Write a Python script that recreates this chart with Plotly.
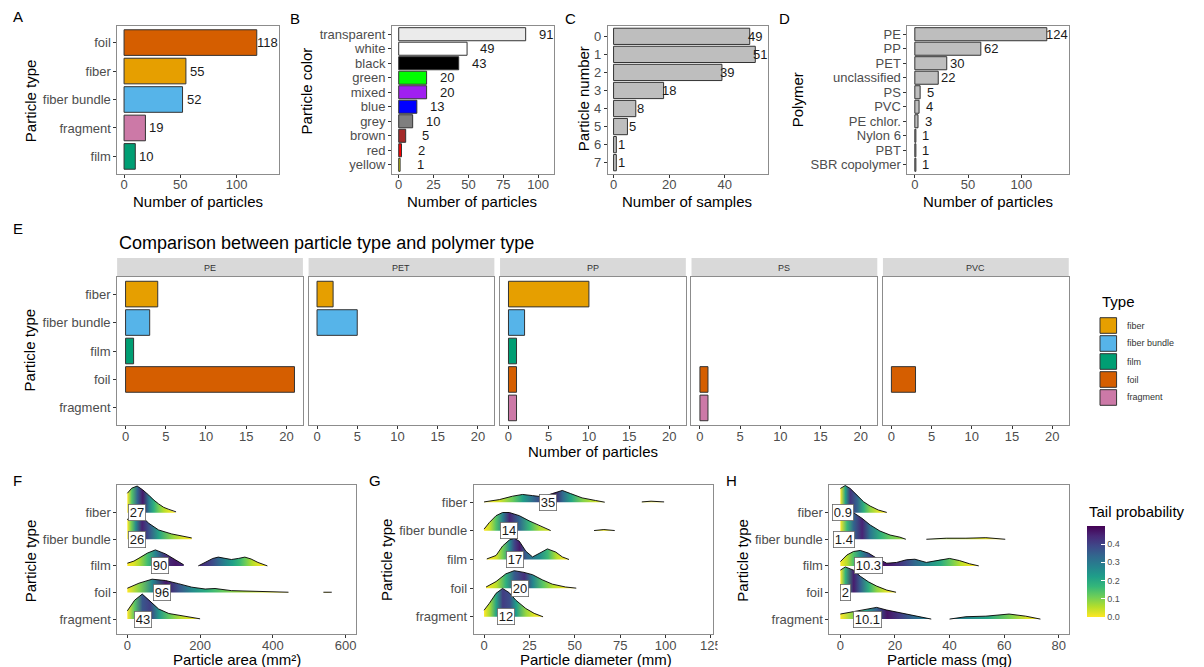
import plotly.graph_objects as go
from plotly.colors import sample_colorscale

# ---------------- data ----------------
A_types = ['foil', 'fiber', 'fiber bundle', 'fragment', 'film']
A_counts = [118, 55, 52, 19, 10]

type_names = ['fiber', 'fiber bundle', 'film', 'foil', 'fragment']
type_colors = ['#E69F00', '#56B4E9', '#009E73', '#D55E00', '#CC79A7']

B_colors = ['transparent', 'white', 'black', 'green', 'mixed', 'blue', 'grey', 'brown', 'red', 'yellow']
B_counts = [91, 49, 43, 20, 20, 13, 10, 5, 2, 1]
B_fill = ['#EBEBEB', '#FFFFFF', '#000000', '#00FF00', '#A020F0', '#0000FF', '#7F7F7F', '#A52A2A', '#FF0000', '#FFFF00']

C_numbers = ['0', '1', '2', '3', '4', '5', '6', '7']
C_counts = [49, 51, 39, 18, 8, 5, 1, 1]

D_polymers = ['PE', 'PP', 'PET', 'unclassified', 'PS', 'PVC', 'PE chlor.', 'Nylon 6', 'PBT', 'SBR copolymer']
D_counts = [124, 62, 30, 22, 5, 4, 3, 1, 1, 1]

E_polymers = ['PE', 'PET', 'PP', 'PS', 'PVC']
E_fiber = [4, 2, 10, 0, 0]
E_fiber_bundle = [3, 5, 2, 0, 0]
E_film = [1, 0, 1, 0, 0]
E_foil = [21, 0, 1, 1, 3]
E_fragment = [0, 0, 1, 1, 0]

# ridge densities (relative heights), pieces separated by None
F_fiber_x = [0, 12, 27, 42, 59, 72, 86, 100, 114, 134]
F_fiber_d = [0.73, 0.92, 1.0, 0.86, 0.66, 0.48, 0.33, 0.2, 0.125, 0.03]
F_bundle_x = [0, 10, 23, 40, 59, 86, 122, 150, 177]
F_bundle_d = [0.73, 0.92, 0.98, 0.85, 0.6, 0.35, 0.2, 0.12, 0.05]
F_film_x = [0, 18, 32, 55, 77, 105, 132, 155, None, 195, 218, 235, 250, 268, 286, 305, 323, 340, 359, 385]
F_film_d = [0.1, 0.18, 0.29, 0.48, 0.6, 0.45, 0.23, 0.04, None, 0.0, 0.16, 0.28, 0.33, 0.29, 0.24, 0.28, 0.33, 0.26, 0.13, 0.0]
F_foil_x = [0, 32, 68, 105, 141, 177, 214, 241, 286, 341, 377, 443, None, 539, 550, 562]
F_foil_d = [0.16, 0.35, 0.5, 0.45, 0.33, 0.2, 0.13, 0.15, 0.07, 0.05, 0.06, 0.01, None, 0.01, 0.02, 0.01]
F_frag_x = [0, 20, 41, 62, 86, 114, 150, 200]
F_frag_d = [0.31, 0.71, 0.94, 0.69, 0.38, 0.21, 0.125, 0.01]
F_medians = [27, 26, 90, 96, 43]

G_fiber_x = [0, 8.4, 15.7, 21.2, 26.7, 32, 37.6, 43.1, 47.7, 54, 61.4, 66.5, None, 86.9, 92, 99.2]
G_fiber_d = [0.01, 0.09, 0.21, 0.27, 0.23, 0.19, 0.3, 0.41, 0.3, 0.15, 0.06, 0.0, None, 0.01, 0.035, 0.01]
G_bundle_x = [0, 2.9, 6.6, 10.2, 13.9, 19.4, 24.8, 30.3, 36.7, None, 60.6, 66, 72]
G_bundle_d = [0.06, 0.29, 0.53, 0.64, 0.64, 0.53, 0.35, 0.18, 0.01, None, 0.01, 0.045, 0.01]
G_film_x = [1.5, 6.6, 10.2, 13.9, 16.6, 19.4, 23, 26.7, 30.3, 34.9, 39.5, 43.1, 46.8]
G_film_d = [0.02, 0.14, 0.47, 0.68, 0.74, 0.64, 0.29, 0.09, 0.21, 0.37, 0.26, 0.09, 0.0]
G_foil_x = [1.1, 6.6, 12, 16.6, 22, 26.7, 32.1, 37.6, 44.9, 50.8]
G_foil_d = [0.04, 0.23, 0.5, 0.61, 0.55, 0.47, 0.29, 0.14, 0.04, 0.0]
G_frag_x = [0, 2.9, 6.6, 10.2, 13.9, 17.5, 23, 27.6, 32.5]
G_frag_d = [0.23, 0.47, 0.82, 0.99, 0.84, 0.58, 0.29, 0.12, 0.0]
G_medians = [35, 14, 17, 20, 12]

H_fiber_x = [0, 1.8, 3.6, 6.1, 8.5, 10.9, 13.9, 17]
H_fiber_d = [0.91, 1.02, 0.91, 0.66, 0.41, 0.25, 0.1, 0.01]
H_bundle_x = [0, 2.4, 4.8, 7.9, 10.9, 14.5, 18.2, 21.8, 24, None, 31.5, 38.8, 46, 53.3, 60.4]
H_bundle_d = [0.85, 0.94, 1.0, 0.79, 0.54, 0.31, 0.16, 0.08, 0.0, None, 0.0, 0.04, 0.04, 0.06, 0.0]
H_film_x = [0, 2.4, 4.8, 7.3, 10.3, 13.3, 17, 20.6, 24.2, 27.3, 31.5, 36.4, 40, 43.6, 47.3, 50.7]
H_film_d = [0.16, 0.41, 0.54, 0.58, 0.48, 0.29, 0.1, 0.13, 0.23, 0.25, 0.13, 0.23, 0.28, 0.2, 0.08, 0.0]
H_foil_x = [0, 1.8, 4.8, 7.3, 10.3, 13.3, 17, 20.4]
H_foil_d = [0.84, 0.96, 0.84, 0.61, 0.4, 0.24, 0.09, 0.01]
H_frag_x = [0, 4.8, 9.1, 13.3, 17, 21.8, 26.7, 30.3, 33.3, None, 40, 46, 53.3, 61.8, 67.9, 73.3]
H_frag_d = [0.19, 0.28, 0.36, 0.44, 0.34, 0.24, 0.15, 0.05, 0.0, None, 0.0, 0.09, 0.11, 0.19, 0.11, 0.0]
H_medians = [0.9, 1.4, 10.3, 2, 10.1]

tail_ticks = [0.0, 0.1, 0.2, 0.3, 0.4]

# ---------------- helpers ----------------
FW, FH = 1204, 667
FONT = 'Liberation Sans, Arial, sans-serif'
LINE_C = '#8C8C8C'
TICK_C = '#333333'
TICK_FONT = dict(size=13, color='#4D4D4D', family=FONT)


def px(x):
    return x / FW


def py(y):
    return 1 - y / FH


fig = go.Figure()
layout = {}
annotations = []
shapes = []


def ax_names(n):
    s = '' if n == 1 else str(n)
    return 'x' + s, 'y' + s, 'xaxis' + s, 'yaxis' + s


def add_axes(n, xdom, ydom, xrange, xticks, yaxis):
    xa, ya, xk, yk = ax_names(n)
    layout[xk] = dict(domain=[px(xdom[0]), px(xdom[1])], anchor=ya, range=xrange,
                      tickmode='array', tickvals=xticks, showline=True, mirror=True,
                      linecolor=LINE_C, linewidth=1, ticks='outside', ticklen=3,
                      tickcolor=TICK_C, tickfont=TICK_FONT, showgrid=False, zeroline=False,
                      fixedrange=True, ticklabelstandoff=-4)
    base = dict(domain=[py(ydom[1]), py(ydom[0])], anchor=xa, showline=True, mirror=True,
                linecolor=LINE_C, linewidth=1, ticks='outside', ticklen=3, tickcolor=TICK_C,
                tickfont=TICK_FONT, showgrid=False, zeroline=False, fixedrange=True)
    base.update(yaxis)
    layout[yk] = base
    return xa, ya


def cat_y(cats):
    n = len(cats)
    return dict(type='category', categoryorder='array', categoryarray=list(reversed(cats)),
                tickmode='linear', tick0=0, dtick=1, range=[-0.6, n - 0.4])


def text(x, y, s, size=15, color='black', xanchor='center', yanchor='middle', angle=0, **kw):
    annotations.append(dict(x=x, y=y, xref='paper', yref='paper', text=s, showarrow=False,
                            xanchor=xanchor, yanchor=yanchor, textangle=angle,
                            font=dict(size=size, color=color, family=FONT), **kw))


def bar_panel(n, xdom, cats, vals, colors, xrange, xticks, shift):
    xa, ya = add_axes(n, xdom, (25.5, 173.5), xrange, xticks, cat_y(cats))
    fig.add_trace(go.Bar(x=vals, y=cats, orientation='h', width=0.9, xaxis=xa, yaxis=ya,
                         marker=dict(color=colors, line=dict(color='#333333', width=1)),
                         hoverinfo='skip', showlegend=False))
    k = len(cats)
    for i, v in enumerate(vals):
        annotations.append(dict(x=v, y=k - 1 - i, xref=xa, yref=ya, text=str(v), showarrow=False,
                                xanchor='center', yanchor='middle', xshift=shift,
                                font=dict(size=13, color='#1A1A1A', family=FONT)))


# ---------------- top row ----------------
type_col = dict(zip(type_names, type_colors))
bar_panel(1, (118.3, 280.7), A_types, A_counts, [type_col[t] for t in A_types],
          [-5.9, 137.4], [0, 50, 100], 11)
bar_panel(2, (395, 558.3), B_colors, B_counts, B_fill, [-4.77, 111.4], [0, 25, 50, 75, 100], 20)
bar_panel(3, (612.3, 773.3), C_numbers, C_counts, ['#BEBEBE'] * len(C_counts), [-2.1, 55.4], [0, 20, 40], 5)
bar_panel(4, (914.3, 1076.7), D_polymers, D_counts, ['#BEBEBE'] * len(D_counts), [-6.9, 144.5], [0, 50, 100], 10)

text(px(30.7), py(100.7), 'Particle type', angle=-90)
text(px(199), py(201.7), 'Number of particles')
text(px(309), py(90.7), 'Particle color', angle=-90)
text(px(475.7), py(201.7), 'Number of particles')
text(px(587.3), py(98.3), 'Particle number', angle=-90)
text(px(692.3), py(201.7), 'Number of samples')
text(px(803.3), py(100), 'Polymer', angle=-90)
text(px(995.7), py(201.7), 'Number of particles')

for letter, lx, ly in [('A', 18, 17), ('B', 297, 18), ('C', 575, 18), ('D', 790.7, 18),
                       ('E', 18, 228), ('F', 18, 480), ('G', 378, 480), ('H', 737, 480)]:
    text(px(lx), py(ly), letter, size=15)

# ---------------- E facets ----------------
E_values = [E_fiber, E_fiber_bundle, E_film, E_foil, E_fragment]
text(px(118), py(243.3), 'Comparison between particle type and polymer type', size=18, xanchor='left')
for j, poly in enumerate(E_polymers):
    n = 5 + j
    left = 118 + j * 192.9
    ydef = cat_y(type_names)
    if j > 0:
        ydef.update(showticklabels=False, ticks='')
    xa, ya = add_axes(n, (left, left + 187.2), (277, 425), [-1.05, 22.05], [0, 5, 10, 15, 20], ydef)
    cats, vals, cols = [], [], []
    for t, c, arr in zip(type_names, type_colors, E_values):
        if arr[j] > 0:
            cats.append(t)
            vals.append(arr[j])
            cols.append(c)
    fig.add_trace(go.Bar(x=vals, y=cats, orientation='h', width=0.9, xaxis=xa, yaxis=ya,
                         marker=dict(color=cols, line=dict(color='#333333', width=1)),
                         hoverinfo='skip', showlegend=False))
    shapes.append(dict(type='rect', xref='paper', yref='paper', x0=px(left), x1=px(left + 187.2),
                       y0=py(277), y1=py(258), fillcolor='#D9D9D9', line=dict(width=0), layer='below'))
    text(px(left + 93.6), py(267.5), poly, size=9, color='#333333')

text(px(30.7), py(350), 'Particle type', angle=-90)
text(px(597.5), py(452), 'Number of particles')

# legend (Type)
text(px(1108), py(301.7), 'Type', xanchor='left')
for k, (t, c) in enumerate(zip(type_names, type_colors)):
    top = 317.7 + k * 18
    shapes.append(dict(type='rect', xref='paper', yref='paper', x0=px(1108.3), x1=px(1125),
                       y0=py(top + 15.6), y1=py(top), fillcolor=c,
                       line=dict(color='#333333', width=1)))
    text(px(1133.3), py(top + 7.8), t, size=9, color='#333333', xanchor='left')


# ---------------- ridgelines ----------------
def split_pieces(xs, ds):
    pieces, cx, cd = [], [], []
    for x, d in zip(xs, ds):
        if x is None:
            pieces.append((cx, cd))
            cx, cd = [], []
        else:
            cx.append(x)
            cd.append(d)
    pieces.append((cx, cd))
    return pieces


def trap(xs, ds):
    return sum((xs[k + 1] - xs[k]) * (ds[k] + ds[k + 1]) / 2 for k in range(len(xs) - 1))


def ridge_panel(n, xdom, xrange, xticks, yrange, series, medians, labels):
    ydef = dict(range=yrange, tickmode='array', tickvals=[5, 4, 3, 2, 1], ticktext=type_names)
    xa, ya = add_axes(n, xdom, (485, 634), xrange, xticks, ydef)
    for i, (xs, ds) in enumerate(series):
        base = 5 - i
        pieces = split_pieces(xs, ds)
        areas = [trap(a, b) for a, b in pieces]
        total = sum(areas)
        run = 0.0
        for (pxs, pds), area in zip(pieces, areas):
            ecdf = [run / total]
            acc = run
            for k in range(1, len(pxs)):
                acc += (pxs[k] - pxs[k - 1]) * (pds[k] + pds[k - 1]) / 2
                ecdf.append(acc / total)
            run += area
            tail = [0.5 - abs(0.5 - e) for e in ecdf]
            cols = sample_colorscale('Viridis', [min(1.0, max(0.0, 1 - 2 * t)) for t in tail])
            x0, x1 = pxs[0], pxs[-1]
            cs = [[(x - x0) / (x1 - x0), c] for x, c in zip(pxs, cols)]
            cs[0][0] = 0.0
            cs[-1][0] = 1.0
            top = [base + d for d in pds]
            fig.add_trace(go.Scatter(x=[x0] + pxs + [x1], y=[base] + top + [base], mode='lines',
                                     fill='toself', fillgradient=dict(type='horizontal', colorscale=cs,
                                                                      start=x0, stop=x1),
                                     line=dict(width=0, color='rgba(0,0,0,0)'),
                                     xaxis=xa, yaxis=ya, hoverinfo='skip', showlegend=False))
            fig.add_trace(go.Scatter(x=pxs, y=top, mode='lines', line=dict(color='black', width=0.9),
                                     xaxis=xa, yaxis=ya, hoverinfo='skip', showlegend=False))
    for i, (m, lab) in enumerate(zip(medians, labels)):
        annotations.append(dict(x=m, y=5 - i, xref=xa, yref=ya, text=lab, showarrow=False,
                                xanchor='center', yanchor='middle', bgcolor='white',
                                bordercolor='#666666', borderwidth=0.8, borderpad=1, height=13,
                                font=dict(size=13, color='#1A1A1A', family=FONT)))
    return xa, ya


ridge_panel(10, (118.3, 359), [-27.3, 629.5], [0, 200, 400, 600], [0.44, 6.04],
            [(F_fiber_x, F_fiber_d), (F_bundle_x, F_bundle_d), (F_film_x, F_film_d),
             (F_foil_x, F_foil_d), (F_frag_x, F_frag_d)],
            F_medians, [str(v) for v in F_medians])
ridge_panel(11, (477.3, 718.3), [-5.7, 126.1], [0, 25, 50, 75, 100, 125], [0.4, 5.6],
            [(G_fiber_x, G_fiber_d), (G_bundle_x, G_bundle_d), (G_film_x, G_film_d),
             (G_foil_x, G_foil_d), (G_frag_x, G_frag_d)],
            G_medians, [str(v) for v in G_medians])
xa12, ya12 = ridge_panel(12, (835.7, 1077.3), [-4.0, 83.85], [0, 20, 40, 60, 80], [0.44, 6.04],
                         [(H_fiber_x, H_fiber_d), (H_bundle_x, H_bundle_d), (H_film_x, H_film_d),
                          (H_foil_x, H_foil_d), (H_frag_x, H_frag_d)],
                         H_medians, [str(v) for v in H_medians])

text(px(30.7), py(560.8), 'Particle type', angle=-90)
text(px(238.3), py(659), 'Particle area (mm²)')
text(px(389), py(560), 'Particle type', angle=-90)
text(px(600.7), py(659), 'Particle diameter (mm)')
text(px(747.3), py(560), 'Particle type', angle=-90)
text(px(956.7), py(659), 'Particle mass (mg)')

# colorbar
text(px(1095), py(511.7), 'Tail probability', xanchor='left')
fig.add_trace(go.Scatter(x=[None], y=[None], mode='markers', xaxis=xa12, yaxis=ya12,
                         hoverinfo='skip', showlegend=False,
                         marker=dict(color=[0], cmin=0, cmax=0.5, colorscale='Viridis', reversescale=True,
                                     showscale=True, opacity=0,
                                     colorbar=dict(x=px(1095), xanchor='left', xpad=0,
                                                   y=py(571.35), yanchor='middle', ypad=0,
                                                   len=90.7, lenmode='pixels', thickness=18,
                                                   thicknessmode='pixels', outlinewidth=0,
                                                   tickmode='array', tickvals=tail_ticks,
                                                   ticktext=['%.1f' % v for v in tail_ticks],
                                                   ticks='inside', ticklen=4, tickcolor='white',
                                                   tickfont=dict(size=9, color='#4D4D4D', family=FONT)))))

# clip of the last G tick label, as in the reference
shapes.append(dict(type='rect', xref='paper', yref='paper', x0=px(723), x1=px(740), y0=py(652), y1=py(636),
                   fillcolor='white', line=dict(width=0), layer='above'))

layout.update(width=FW, height=FH, margin=dict(l=0, r=0, t=0, b=0), paper_bgcolor='white',
              plot_bgcolor='white', showlegend=False, barmode='overlay',
              font=dict(family=FONT), annotations=annotations, shapes=shapes)
fig.update_layout(**layout)

fig.write_html('out.html', config={'displayModeBar': False},
               post_script="document.body.style.margin='0px';")
